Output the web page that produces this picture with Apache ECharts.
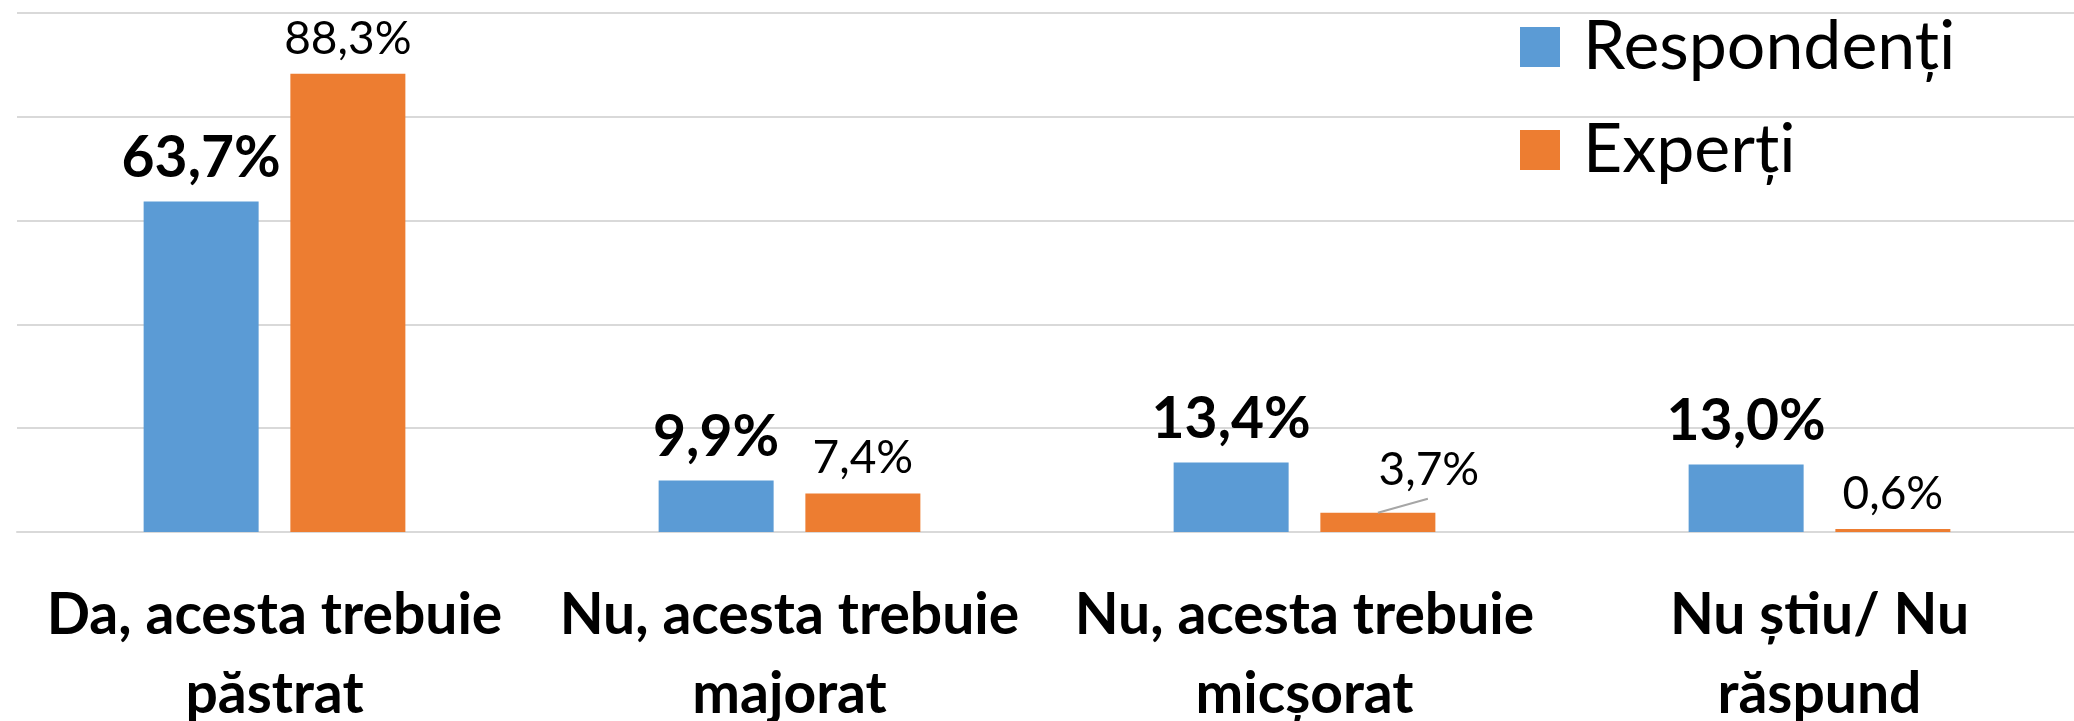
<!DOCTYPE html>
<html>
<head>
<meta charset="utf-8">
<script src="https://cdn.jsdelivr.net/npm/echarts@6/dist/echarts.min.js"></script>
<style>
html,body{margin:0;padding:0;background:#fff;}
#chart{width:2074px;height:721px;}
</style>
</head>
<body>
<div id="chart"></div>
<script>
var categories = ['Da, acesta trebuie\npăstrat', 'Nu, acesta trebuie\nmajorat', 'Nu, acesta trebuie\nmicșorat', 'Nu știu/ Nu\nrăspund'];
var seriesNames = ['Respondenți', 'Experți'];
var respondenti = [63.7, 9.9, 13.4, 13.0];
var experti = [88.3, 7.4, 3.7, 0.6];
var yTicks = [0, 20, 40, 60, 80, 100];
var leaderIndex = [2]; // Experți label moved aside with a leader line

var FONT = 'Lato';
var BAR_W = 115, BAR_GAP = 0.276;
function fmt(p){ return p.value.toFixed(1).replace('.', ',') + '%'; }

var chart = echarts.init(document.getElementById('chart'), null, {renderer:'canvas'});
chart.setOption({
  animation: false,
  backgroundColor: '#ffffff',
  textStyle: {fontFamily: FONT},
  grid: {left: 17, width: 2060, top: 13, bottom: 189, containLabel: false, outerBoundsMode: 'none'},
  legend: {
    orient: 'vertical', left: 1515, top: 6,
    itemWidth: 40, itemHeight: 40, itemGap: 31,
    icon: 'rect',
    data: seriesNames,
    textStyle: {fontFamily: FONT, fontSize: 68, lineHeight: 72, color: '#000', padding: [0,0,0,18]}
  },
  xAxis: {
    type: 'category', data: categories,
    axisLine: {show: true, lineStyle: {color: '#d9d9d9', width: 2}},
    axisTick: {show: false},
    axisLabel: {interval: 0, margin: 44, fontFamily: FONT, fontWeight: 'bold', fontSize: 57, lineHeight: 79, color: '#000'}
  },
  yAxis: {
    type: 'value', min: yTicks[0], max: yTicks[yTicks.length-1], interval: 20,
    axisLabel: {show: false}, axisLine: {show: false}, axisTick: {show: false},
    splitLine: {lineStyle: {color: '#d9d9d9', width: 2}}
  },
  series: [
    {
      name: seriesNames[0], type: 'bar', data: respondenti,
      barWidth: BAR_W, barGap: (BAR_GAP*100) + '%', barCategoryGap: '49%',
      itemStyle: {color: '#5B9BD5'},
      label: {show: true, position: 'top', distance: 14, formatter: fmt, fontFamily: FONT, fontWeight: 'bold', fontSize: 57, color: '#000'}
    },
    {
      name: seriesNames[1], type: 'bar', data: experti,
      barWidth: BAR_W, barGap: (BAR_GAP*100) + '%', barCategoryGap: '49%',
      itemStyle: {color: '#ED7D31'},
      label: {show: true, position: 'top', distance: 12, formatter: fmt, fontFamily: FONT, fontSize: 46, color: '#000'},
      labelLayout: function(p){ return leaderIndex.indexOf(p.dataIndex) >= 0 ? {dx: 51, dy: -8} : {}; }
    },
    {
      type: 'custom', silent: true, z: 5,
      data: leaderIndex.map(function(i){ return [i, experti[i]]; }),
      renderItem: function(params, api){
        var p = api.coord([api.value(0), api.value(1)]);
        var x0 = p[0] + (BAR_W * (1 + BAR_GAP)) / 2;
        return {
          type: 'line',
          shape: {x1: x0, y1: p[1], x2: x0 + 50, y2: p[1] - 14},
          style: {stroke: '#a6a6a6', lineWidth: 2}
        };
      }
    }
  ]
});
</script>
</body>
</html>
